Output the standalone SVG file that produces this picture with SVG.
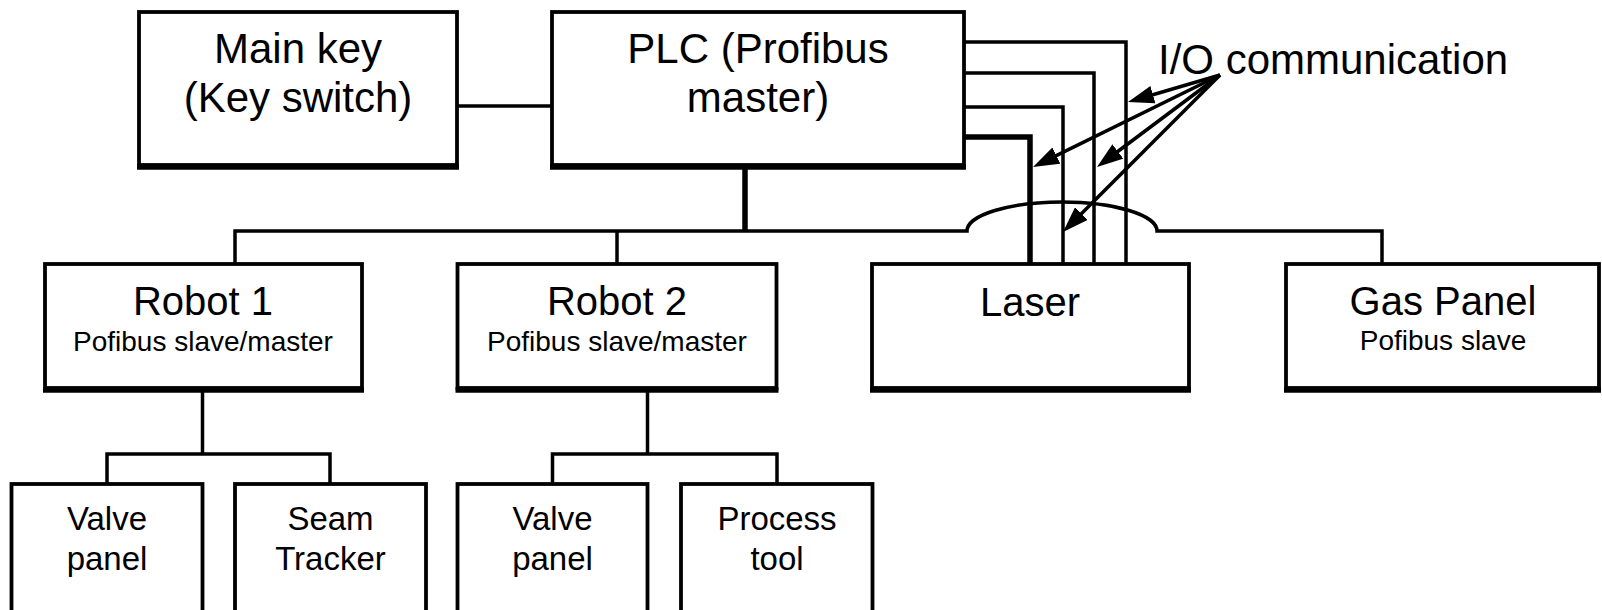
<svg xmlns="http://www.w3.org/2000/svg" width="1602" height="610" viewBox="0 0 1602 610">
<style>
.box{fill:#fff;stroke:#000;stroke-width:3.8}
.bt{stroke:#000;stroke-width:5.5}
.ln{fill:none;stroke:#000;stroke-width:3.5}
.thk{stroke-width:5.5}
text{font-family:"Liberation Sans",Arial,Helvetica,sans-serif;fill:#000;text-anchor:middle}
.t42{font-size:42px}
.t40{font-size:40px}
.t28{font-size:28px}
.t33{font-size:33px}
.lab{font-size:42px;text-anchor:start}
</style>
<defs>
<marker id="ah" markerUnits="userSpaceOnUse" viewBox="0 0 26 18" markerWidth="26" markerHeight="18" refX="16" refY="9" orient="auto">
<path d="M0,0 L26,9 L0,18 z" fill="#000"/>
</marker>
</defs>
<rect width="1602" height="610" fill="#fff"/>
<g id="connectors">
<path class="ln" d="M457 106 H552"/>
<path class="ln thk" d="M745 167 V231"/>
<path class="ln" d="M235 264 V231 H967 A95 29 0 0 1 1157 231 H1382 V264"/>
<path class="ln" d="M617 231 V264"/>
<path class="ln" d="M202.5 390 V454"/>
<path class="ln" d="M107 484 V454 H330 V484"/>
<path class="ln" d="M647.5 390 V454"/>
<path class="ln" d="M552.5 484 V454 H777 V484"/>
<path class="ln" d="M964 42 H1126 V264"/>
<path class="ln" d="M964 73 H1094 V264"/>
<path class="ln" d="M964 107 H1063 V264"/>
<path class="ln thk" d="M964 137 H1030 V264"/>
<g id="io-arrows" class="ln" marker-end="url(#ah)">
<line x1="1220" y1="75" x2="1137.6" y2="99.2"/>
<line x1="1220" y1="75" x2="1042" y2="162.6"/>
<line x1="1220" y1="75" x2="1105" y2="161"/>
<line x1="1220" y1="75" x2="1070.1" y2="224.9"/>
</g>
</g>
<g id="mainkey">
<rect class="box" x="139" y="12" width="318" height="153"/>
<line class="bt" x1="137" y1="167" x2="459" y2="167"/>
<text class="t42" x="298" y="63">Main key</text>
<text class="t42" x="298" y="112">(Key switch)</text>
</g>
<g id="plc">
<rect class="box" x="552" y="12" width="412" height="153"/>
<line class="bt" x1="550" y1="167" x2="966" y2="167"/>
<text class="t42" x="758" y="63">PLC (Profibus</text>
<text class="t42" x="758" y="112">master)</text>
</g>
<g id="robot1">
<rect class="box" x="45" y="264" width="317" height="124"/>
<line class="bt" x1="43" y1="390" x2="364" y2="390"/>
<text class="t40" x="203" y="315">Robot 1</text>
<text class="t28" x="203" y="351">Pofibus slave/master</text>
</g>
<g id="robot2">
<rect class="box" x="457.5" y="264" width="319" height="124"/>
<line class="bt" x1="455.5" y1="390" x2="778.5" y2="390"/>
<text class="t40" x="617" y="315">Robot 2</text>
<text class="t28" x="617" y="351">Pofibus slave/master</text>
</g>
<g id="laser">
<rect class="box" x="872" y="264" width="317" height="124"/>
<line class="bt" x1="870" y1="390" x2="1191" y2="390"/>
<text class="t40" x="1030" y="316">Laser</text>
</g>
<g id="gaspanel">
<rect class="box" x="1286" y="264" width="313" height="124"/>
<line class="bt" x1="1284" y1="390" x2="1601" y2="390"/>
<text class="t40" x="1443" y="315">Gas Panel</text>
<text class="t28" x="1443" y="350">Pofibus slave</text>
</g>
<g id="valvepanel1">
<rect class="box" x="11.5" y="484" width="191" height="140"/>
<text class="t33" x="107" y="530">Valve</text>
<text class="t33" x="107" y="570">panel</text>
</g>
<g id="seamtracker">
<rect class="box" x="235" y="484" width="191" height="140"/>
<text class="t33" x="330.5" y="530">Seam</text>
<text class="t33" x="330.5" y="570">Tracker</text>
</g>
<g id="valvepanel2">
<rect class="box" x="457.5" y="484" width="190" height="140"/>
<text class="t33" x="552.5" y="530">Valve</text>
<text class="t33" x="552.5" y="570">panel</text>
</g>
<g id="processtool">
<rect class="box" x="681" y="484" width="191.5" height="140"/>
<text class="t33" x="777" y="530">Process</text>
<text class="t33" x="777" y="570">tool</text>
</g>
<g id="io-label">
<text class="lab" x="1158" y="74">I/O communication</text>
</g>
</svg>
